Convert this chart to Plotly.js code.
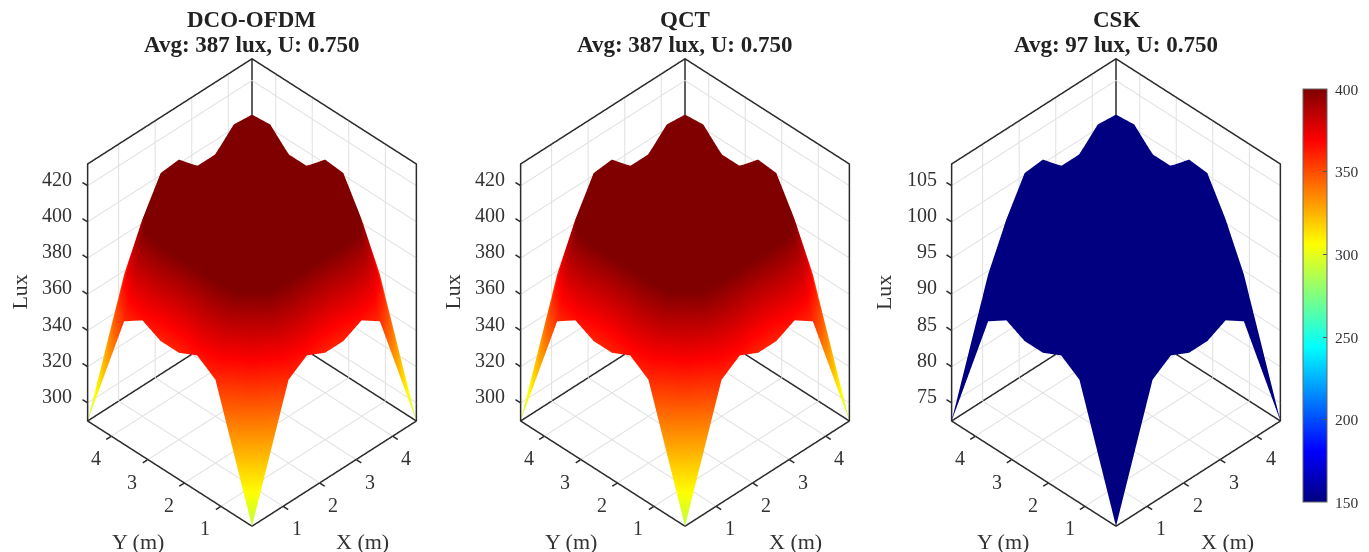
<!DOCTYPE html>
<html>
<head>
<meta charset="utf-8">
<script src="https://cdn.plot.ly/plotly-3.0.1.min.js"></script>
<style>html,body{margin:0;padding:0;background:#fff}#chart{width:1369px;height:552px}</style>
</head>
<body>
<div id="chart"></div>
<script>
const xGrid = [0.15,0.65,1.15,1.65,2.15,2.65,3.15,3.65,4.15,4.65];
const yGrid = [0.15,0.65,1.15,1.65,2.15,2.65,3.15,3.65,4.15,4.65];
const dcoLux = [
 [290,324,358,365,360,360,365,358,324,290],
 [324,368,395,399,398,398,399,395,368,324],
 [358,395,427,428,418,418,428,427,395,358],
 [365,399,428,425,424,424,425,428,399,365],
 [360,398,418,424,419,419,424,418,398,360],
 [360,398,418,424,419,419,424,418,398,360],
 [365,399,428,425,424,424,425,428,399,365],
 [358,395,427,428,418,418,428,427,395,358],
 [324,368,395,399,398,398,399,395,368,324],
 [290,324,358,365,360,360,365,358,324,290]
];
const qctLux = dcoLux;
const cskLux = [
 [72.5,81,89.5,91.25,90,90,91.25,89.5,81,72.5],
 [81,92,98.75,99.75,99.5,99.5,99.75,98.75,92,81],
 [89.5,98.75,106.75,107,104.5,104.5,107,106.75,98.75,89.5],
 [91.25,99.75,107,106.25,106,106,106.25,107,99.75,91.25],
 [90,99.5,104.5,106,104.75,104.75,106,104.5,99.5,90],
 [90,99.5,104.5,106,104.75,104.75,106,104.5,99.5,90],
 [91.25,99.75,107,106.25,106,106,106.25,107,99.75,91.25],
 [89.5,98.75,106.75,107,104.5,104.5,107,106.75,98.75,89.5],
 [81,92,98.75,99.75,99.5,99.5,99.75,98.75,92,81],
 [72.5,81,89.5,91.25,90,90,91.25,89.5,81,72.5]
];
const floorTicks = [1,2,3,4];
const luxTicksHigh = [300,320,340,360,380,400,420];
const luxTicksLow = [75,80,85,90,95,100,105];
const colorbarTicks = [150,200,250,300,350,400];
const panelNames = ['DCO-OFDM','QCT','CSK'];
const panelSubtitles = ['Avg: 387 lux, U: 0.750','Avg: 387 lux, U: 0.750','Avg: 97 lux, U: 0.750'];
const xyRange = [0.15,4.65];
const zRangeHigh = [290,432];
const zRangeLow = [72.5,108];

const W = 1369, H = 552;
const FONT = '"Liberation Serif","Times New Roman",serif';
const INK = '#333333';
const jet = [[0,'#000080'],[0.125,'#0000ff'],[0.375,'#00ffff'],[0.625,'#ffff00'],[0.875,'#ff0000'],[1,'#800000']];
const panels = [
 {id:'scene', cx:251.5, z:dcoLux, ticks:luxTicksHigh, zr:zRangeHigh},
 {id:'scene2',cx:684.5, z:qctLux, ticks:luxTicksHigh, zr:zRangeHigh},
 {id:'scene3',cx:1116,  z:cskLux, ticks:luxTicksLow,  zr:zRangeLow}
];
const CY = 292.5, HALF_W = 201, HALF_H = 259.5, EYE = 2.3;
const XY_SCALE = 0.896, Z_SCALE = 0.8925 * 1.444;
const XY_PAD = 0.15, TICK_LEN = 0.14, Z_PAD_FRAC = 0.005;
const data = [], layout = {
  width:W, height:H, autosize:false, margin:{l:0,r:0,t:0,b:0}, paper_bgcolor:'#fff', showlegend:false,
  font:{family:FONT,color:INK}, annotations:[]
};
function bareAxis(range){
  return {range:range, autorange:false, showticklabels:false, ticks:'', showgrid:false, zeroline:false,
    showline:false, showbackground:false, showspikes:false, title:{text:''}};
}
function lineTrace(scene, segs, color, width){
  const x=[],y=[],z=[];
  segs.forEach(s=>{ s.forEach(pt=>{x.push(pt[0]);y.push(pt[1]);z.push(pt[2]);}); x.push(null);y.push(null);z.push(null); });
  return {type:'scatter3d',scene:scene,mode:'lines',hoverinfo:'skip',showlegend:false,x:x,y:y,z:z,line:{color:color,width:width}};
}
panels.forEach((p,i)=>{
  const [x0,x1] = xyRange, [z0,z1] = p.zr;
  const zp = (z1-z0)*Z_PAD_FRAC;
  data.push({type:'surface', scene:p.id, x:xGrid, y:yGrid, z:p.z, colorscale:jet, cmin:150, cmax:400,
    showscale:i===2, hoverinfo:'skip',
    lighting:{ambient:1,diffuse:0,specular:0,roughness:1,fresnel:0},
    contours:{x:{show:false},y:{show:false},z:{show:false}},
    colorbar:{x:1303.3/W,xanchor:'left',xpad:0,y:1-295.8/H,yanchor:'middle',ypad:0,
      thicknessmode:'pixels',thickness:23.7,lenmode:'pixels',len:413,
      tickmode:'array',tickvals:colorbarTicks,ticktext:colorbarTicks.map(v=>'\u00A0'+v),
      ticks:'inside',ticklen:4,tickcolor:'#555',outlinecolor:'#666',outlinewidth:1,
      tickfont:{family:FONT,size:15.5,color:INK}}});
  const grid = [];
  floorTicks.forEach(v=>{
    grid.push([[v,x0,z0],[v,x1,z0]]);
    grid.push([[x0,v,z0],[x1,v,z0]]);
    grid.push([[v,x1,z0],[v,x1,z1]]);
    grid.push([[x1,v,z0],[x1,v,z1]]);
  });
  p.ticks.forEach(v=>{
    grid.push([[x0,x1,v],[x1,x1,v]]);
    grid.push([[x1,x0,v],[x1,x1,v]]);
  });
  data.push(lineTrace(p.id,grid,'#e0e0e0',2));
  const edges = [
    [[x0,x0,z0],[x1,x0,z0],[x1,x1,z0],[x0,x1,z0],[x0,x0,z0]],
    [[x0,x1,z0],[x0,x1,z1],[x1,x1,z1],[x1,x0,z1],[x1,x0,z0]],
    [[x1,x1,z0],[x1,x1,z1]]
  ];
  floorTicks.forEach(v=>{
    edges.push([[v,x0,z0],[v,x0-TICK_LEN,z0]]);
    edges.push([[x0,v,z0],[x0-TICK_LEN,v,z0]]);
  });
  p.ticks.forEach(v=>{ edges.push([[x0,x1,v],[x0,x1+TICK_LEN,v]]); });
  data.push(lineTrace(p.id,edges,'#2b2b2b',3));
  const sceneAnn = [];
  const base = {showarrow:false, font:{family:FONT,size:20,color:INK}};
  floorTicks.forEach(v=>{
    sceneAnn.push(Object.assign({},base,{x:v,y:x0,z:z0,text:String(v),xshift:14,yshift:-22}));
    sceneAnn.push(Object.assign({},base,{x:x0,y:v,z:z0,text:String(v),xshift:-15,yshift:-22}));
  });
  p.ticks.forEach(v=>{
    sceneAnn.push(Object.assign({},base,{x:x0,y:x1,z:v,text:String(v),xanchor:'right',xshift:-13,yshift:7}));
  });
  const mid = (x0+x1)/2, zm = (z0+z1)/2;
  sceneAnn.push(Object.assign({},base,{x:mid,y:x0,z:z0,text:'X (m)',font:{family:FONT,size:22,color:INK},xshift:29,yshift:-68}));
  sceneAnn.push(Object.assign({},base,{x:x0,y:mid,z:z0,text:'Y (m)',font:{family:FONT,size:22,color:INK},xshift:-31,yshift:-68}));
  sceneAnn.push(Object.assign({},base,{x:x0,y:x1,z:zm,text:'Lux',textangle:-90,font:{family:FONT,size:22,color:INK},xshift:-68}));
  const xyR = [x0-XY_PAD,x1+XY_PAD], zR = [z0-zp,z1+zp];
  const xyAspect = XY_SCALE*(x1-x0+2*XY_PAD)/(x1-x0);
  layout[p.id] = {
    domain:{x:[(p.cx-HALF_W)/W,(p.cx+HALF_W)/W], y:[1-(CY+HALF_H)/H,1-(CY-HALF_H)/H]},
    aspectmode:'manual',
    aspectratio:{x:xyAspect, y:xyAspect, z:Z_SCALE*(1+2*Z_PAD_FRAC)},
    camera:{projection:{type:'orthographic'}, up:{x:0,y:0,z:1}, center:{x:0,y:0,z:0},
      eye:{x:-EYE,y:-EYE,z:1.178*EYE}},
    xaxis:bareAxis(xyR), yaxis:bareAxis(xyR), zaxis:bareAxis(zR),
    annotations:sceneAnn
  };
  const bold = s=>'<b>'+s+'</b>';
  layout.annotations.push({xref:'paper',yref:'paper',xanchor:'center',x:p.cx/W,y:1-19/H,yanchor:'middle',text:bold(panelNames[i]),showarrow:false,font:{family:FONT,size:23,color:'#222'}});
  layout.annotations.push({xref:'paper',yref:'paper',xanchor:'center',x:p.cx/W,y:1-44/H,yanchor:'middle',text:bold(panelSubtitles[i]),showarrow:false,font:{family:FONT,size:23,color:'#222'}});
});
Plotly.newPlot('chart',data,layout,{displayModeBar:false});
</script>
</body>
</html>
